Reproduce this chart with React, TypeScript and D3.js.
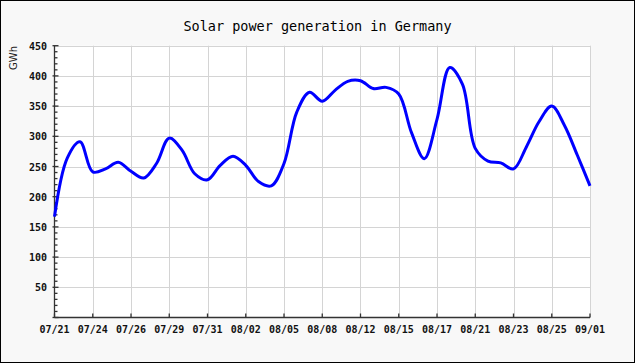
import React, { useEffect, useRef } from 'react';
import * as d3 from 'd3';

// daily-ish generation readings, GWh
const values = [
    167, 264, 291, 241, 246, 257, 242, 231, 255, 297, 277, 238, 228, 252, 267,
    252, 225, 218, 255, 340, 373, 358, 376, 391, 392, 379, 381, 370, 306, 263,
    328, 414, 386, 280, 259, 256, 246, 282, 324, 350, 318, 269, 218,
];
// one label every 3rd point
const tickLabels = [
    '07/21', '07/24', '07/26', '07/29', '07/31', '08/02', '08/05', '08/08',
    '08/12', '08/15', '08/17', '08/21', '08/23', '08/25', '09/01',
];
const yTicks = [50, 100, 150, 200, 250, 300, 350, 400, 450];
const title = 'Solar power generation in Germany';
const yTitle = 'GWh';

const W = 635;
const H = 363;
const plot = { left: 54.5, right: 590, top: 45.7, bottom: 317.5 };

const App = () => {
    const svgRef = useRef<SVGSVGElement>(null);

    useEffect(() => {
        const svg = d3.select(svgRef.current);
        svg.selectAll('*').remove();

        const x = d3.scaleLinear().domain([0, values.length - 1]).range([plot.left, plot.right]);
        const y = d3.scaleLinear().domain([0, 450]).range([plot.bottom, plot.top]);
        const step = (values.length - 1) / (tickLabels.length - 1);

        svg.append('rect')
            .attr('x', 0.5).attr('y', 0.5)
            .attr('width', W - 1).attr('height', H - 1)
            .attr('fill', '#f8f8f8').attr('stroke', '#000');

        svg.append('rect')
            .attr('x', plot.left).attr('y', plot.top)
            .attr('width', plot.right - plot.left).attr('height', plot.bottom - plot.top)
            .attr('fill', '#fff');

        svg.append('text')
            .attr('x', W / 2).attr('y', 31)
            .attr('text-anchor', 'middle')
            .style('font-family', 'DejaVu Sans Mono')
            .style('font-size', '13.5px')
            .attr('fill', '#000')
            .text(title);

        const grid = svg.append('g').attr('stroke', '#d4d4d4').attr('stroke-width', 1);
        yTicks.forEach((t) => {
            grid.append('line')
                .attr('x1', plot.left).attr('x2', plot.right)
                .attr('y1', Math.round(y(t)) + 0.5).attr('y2', Math.round(y(t)) + 0.5);
        });
        tickLabels.forEach((_, i) => {
            if (i === 0) return;
            const px = Math.round(x(i * step)) + 0.5;
            grid.append('line')
                .attr('x1', px).attr('x2', px)
                .attr('y1', plot.top).attr('y2', plot.bottom);
        });

        // axes
        const axis = svg.append('g').attr('stroke', '#333').attr('stroke-width', 1.3);
        axis.append('line')
            .attr('x1', plot.left).attr('x2', plot.left)
            .attr('y1', plot.top).attr('y2', plot.bottom);
        axis.append('line')
            .attr('x1', plot.left).attr('x2', plot.right)
            .attr('y1', plot.bottom).attr('y2', plot.bottom);
        d3.range(0, 451, 10).forEach((t) => {
            const major = t % 50 === 0;
            axis.append('line')
                .attr('x1', plot.left - (major ? 2 : 0)).attr('x2', plot.left + (major ? 4 : 3))
                .attr('y1', y(t)).attr('y2', y(t));
        });
        tickLabels.forEach((_, i) => {
            axis.append('line')
                .attr('x1', x(i * step)).attr('x2', x(i * step))
                .attr('y1', plot.bottom).attr('y2', plot.bottom - 4);
        });

        const labelStyle = (sel: any) => sel
            .style('font-family', 'DejaVu Sans Mono')
            .style('font-size', '10px')
            .style('font-weight', 'bold')
            .attr('fill', '#111');

        yTicks.forEach((t) => {
            svg.append('text')
                .attr('x', 47).attr('y', y(t) + 4)
                .attr('text-anchor', 'end')
                .call(labelStyle)
                .text(t);
        });
        tickLabels.forEach((lab, i) => {
            svg.append('text')
                .attr('x', x(i * step)).attr('y', 333)
                .attr('text-anchor', 'middle')
                .call(labelStyle)
                .text(lab);
        });

        svg.append('text')
            .attr('transform', 'translate(17,58) rotate(-90)')
            .attr('text-anchor', 'middle')
            .style('font-family', 'DejaVu Sans')
            .style('font-size', '10px')
            .attr('fill', '#222')
            .text(yTitle);

        const line = d3.line<number>()
            .x((_, i) => x(i))
            .y((d) => y(d))
            .curve(d3.curveCatmullRom.alpha(0.5));

        svg.append('path')
            .datum(values)
            .attr('d', line)
            .attr('fill', 'none')
            .attr('stroke', '#0000ff')
            .attr('stroke-width', 3)
            .attr('stroke-linejoin', 'round');
    }, []);

    return (
        <svg
            ref={svgRef}
            width={W}
            height={H}
            style={{ position: 'absolute', left: 0, top: 0 }}
        ></svg>
    );
};

export default App;
